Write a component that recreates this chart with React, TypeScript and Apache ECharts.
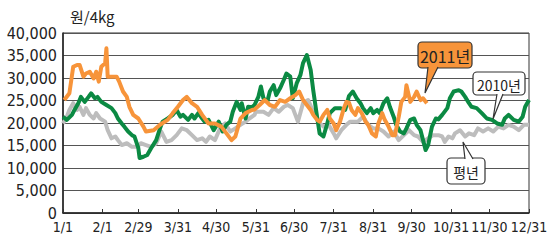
import React, { useEffect, useRef } from "react";
import * as echarts from "echarts";

// x = day of year (0 = 1/1), y = 원/4kg
const tickDays = [0, 31, 59, 90, 120, 151, 181, 212, 243, 273, 304, 334, 365];
const tickLabels = ["1/1", "2/1", "2/29", "3/31", "4/30", "5/31", "6/30", "7/31", "8/31", "9/30", "10/31", "11/30", "12/31"];
const yTicks = [0, 5000, 10000, 15000, 20000, 25000, 30000, 35000, 40000];

const y2011: [number, number][] = [
  [1, 25100], [5, 26600], [8, 32500], [11, 32900], [13, 32900], [16, 30300], [18, 31000], [21, 31400],
  [24, 29900], [26, 31400], [28, 29200], [30, 32500], [33, 33300], [34, 36600], [35, 30300], [38, 30300],
  [42, 30300], [44, 29200], [47, 27000], [50, 25800], [52, 23600], [55, 21800], [59, 21000], [63, 19200],
  [65, 18100], [71, 18400], [76, 19600], [82, 20700], [86, 22200], [90, 23600], [94, 25100], [97, 25800],
  [101, 24400], [105, 23600], [109, 21800], [114, 19900], [119, 19900], [124, 19200], [128, 17700],
  [132, 16200], [135, 17000], [139, 21000], [143, 22200], [148, 22900], [150, 23000], [154, 24000],
  [158, 25100], [162, 24000], [166, 23600], [170, 25100], [174, 24700], [178, 25500], [182, 26200],
  [185, 27000], [188, 25100], [191, 24000], [194, 22900], [196, 21800], [199, 20700], [201, 20300],
  [204, 21800], [207, 22900], [209, 21000], [212, 19900], [214, 18400], [217, 20300], [220, 23300],
  [222, 24700], [224, 24500], [226, 22900], [229, 21800], [231, 23300], [234, 22200], [237, 20300],
  [239, 19600], [242, 17700], [245, 17000], [247, 19900], [250, 22200], [252, 20700], [255, 19200],
  [258, 17300], [260, 17300], [263, 21400], [265, 24700], [268, 25800], [269, 28400], [272, 24700],
  [275, 25800], [277, 27000], [280, 25100], [282, 25500], [285, 24400],
];

const y2010: [number, number][] = [
  [0, 21400], [3, 20700], [7, 21800], [9, 22900], [12, 24400], [14, 25800], [17, 24700], [20, 25800],
  [22, 26600], [25, 25500], [27, 25800], [30, 24700], [34, 24000], [38, 23300], [41, 22200], [43, 21000],
  [46, 19900], [48, 19200], [51, 18100], [54, 17300], [56, 17000], [59, 14400], [60, 12200], [63, 12500],
  [66, 12900], [69, 14400], [73, 16200], [76, 18800], [78, 20300], [82, 21000], [86, 21800], [89, 22900],
  [92, 21400], [94, 21800], [98, 20700], [101, 21800], [103, 21000], [106, 22200], [109, 21000],
  [111, 20300], [114, 20700], [118, 18400], [122, 20300], [125, 18100], [128, 19600], [131, 20300],
  [133, 22500], [136, 24700], [139, 22900], [140, 24400], [143, 21000], [145, 23600], [148, 23500],
  [150, 24000], [153, 25800], [155, 28100], [157, 25500], [160, 24700], [162, 27000], [165, 28400],
  [167, 26200], [170, 27700], [173, 29600], [175, 31000], [178, 30300], [180, 25500], [183, 28800],
  [186, 30700], [188, 33300], [191, 35100], [194, 31800], [196, 27300], [199, 21400], [201, 17700],
  [204, 17000], [207, 19900], [209, 22200], [213, 23300], [217, 23300], [221, 22900], [224, 26000],
  [227, 27000], [230, 25500], [233, 24400], [235, 23300], [238, 22200], [241, 23300], [243, 22200],
  [246, 22900], [248, 22200], [251, 24400], [254, 25500], [256, 23600], [259, 21400], [261, 19600],
  [264, 18100], [267, 17700], [269, 18800], [272, 20700], [275, 21000], [277, 19600], [280, 18400],
  [282, 16200], [284, 14000], [286, 15100], [289, 19200], [292, 21000], [294, 20800], [297, 21800],
  [301, 23300], [303, 25500], [306, 27000], [310, 27300], [312, 27000], [315, 25800], [318, 24400],
  [320, 23600], [324, 23300], [328, 22200], [332, 21000], [336, 20700], [340, 19900], [344, 19600],
  [346, 21000], [349, 21800], [353, 20700], [357, 20300], [360, 21400], [362, 23600], [365, 25100],
];

const yAvg: [number, number][] = [
  [0, 19900], [3, 21400], [5, 22900], [8, 24400], [11, 22900], [13, 23600], [16, 21800], [18, 23300],
  [21, 21800], [24, 21000], [26, 22200], [29, 21000], [33, 20300], [35, 18400], [38, 16600], [41, 17000],
  [43, 16200], [46, 15100], [50, 15500], [54, 14700], [58, 14700], [61, 15500], [65, 15100], [69, 14700],
  [73, 15500], [77, 18100], [81, 15800], [85, 16200], [89, 17300], [93, 18800], [97, 18400], [101, 17300],
  [105, 16200], [109, 16600], [112, 15800], [115, 17000], [119, 16200], [123, 18800], [127, 19900],
  [131, 18100], [135, 18800], [139, 19600], [143, 20300], [146, 21000], [150, 21800], [151, 22500],
  [157, 22500], [161, 21800], [165, 23300], [169, 22500], [173, 23600], [176, 24000], [180, 23300],
  [184, 20300], [188, 24400], [192, 25100], [196, 22500], [200, 20300], [204, 19200], [208, 19600],
  [212, 17700], [214, 16600], [218, 18400], [222, 19600], [225, 20300], [231, 20300], [235, 21400],
  [239, 19600], [243, 18800], [247, 18800], [251, 18100], [255, 17000], [259, 18100], [263, 16200],
  [267, 17300], [271, 18400], [275, 17300], [278, 17000], [282, 15800], [286, 16600], [290, 17300],
  [294, 17300], [297, 17000], [299, 15800], [302, 17000], [305, 16600], [307, 17700], [311, 18400],
  [315, 17000], [318, 17700], [322, 17300], [325, 18800], [329, 18100], [333, 18800], [337, 18100],
  [341, 19200], [345, 18800], [349, 19600], [353, 19200], [357, 18400], [361, 19600], [365, 19600],
];

const FONT = "'Liberation Sans Narrow', 'DejaVu Sans Condensed', 'Noto Sans CJK KR', sans-serif";
const KFONT = "'Liberation Sans Narrow', 'Noto Sans CJK KR', sans-serif";

function callout(
  box: [number, number, number, number],
  tail: [number, number][],
  fill: string,
  text: string,
  fontSize: number
): any[] {
  const [x, y, w, h] = box;
  return [
    { type: "rect", shape: { x, y, width: w, height: h, r: 4 }, style: { fill, stroke: "#333", lineWidth: 1.2 }, z: 100 },
    { type: "polygon", shape: { points: tail }, style: { fill, stroke: null }, z: 101 },
    { type: "polyline", shape: { points: [tail[0], tail[1], tail[2]] }, style: { fill: null, stroke: "#333", lineWidth: 1.2 }, z: 102 },
    {
      type: "text", x: x + w / 2, y: y + h / 2 + 1,
      style: { text, fill: "#222", font: `${fontSize}px ${KFONT}`, align: "center", verticalAlign: "middle" },
      z: 103,
    },
  ];
}

export default function App() {
  const ref = useRef<HTMLDivElement>(null);
  useEffect(() => {
    if (!ref.current) return;
    const chart = echarts.init(ref.current, null, { renderer: "svg" });
    const lineCommon = { type: "line", showSymbol: false, smooth: false, silent: true };
    chart.setOption({
      animation: false,
      grid: {
        left: 63, right: 27, top: 33, bottom: 28,
        containLabel: false, outerBoundsMode: "none",
        show: true, borderColor: "#333", borderWidth: 1,
      },
      xAxis: {
        type: "value",
        min: 0,
        max: 365,
        splitLine: { show: false },
        axisLine: { lineStyle: { color: "#222", width: 1.5 } },
        axisTick: { customValues: tickDays, inside: true, length: 4, lineStyle: { color: "#333" } },
        axisLabel: {
          customValues: tickDays,
          formatter: (v: number) => tickLabels[tickDays.indexOf(v)] ?? "",
          color: "#222",
          fontSize: 14,
          fontFamily: FONT,
          margin: 7,
          hideOverlap: false,
        },
      },
      yAxis: {
        type: "value",
        min: 0,
        max: 40000,
        interval: 5000,
        axisLine: { show: true, lineStyle: { color: "#222", width: 1.5 } },
        axisTick: { show: false },
        splitLine: { lineStyle: { color: "#555", width: 1 } },
        axisLabel: {
          formatter: (v: number) => (yTicks.includes(v) ? v.toLocaleString("en-US") : ""),
          color: "#222",
          fontSize: 16,
          fontFamily: FONT,
          margin: 6,
        },
      },
      series: [
        { ...lineCommon, name: "평년", data: yAvg, lineStyle: { color: "#BDBDBD", width: 4, join: "round" }, z: 2 },
        { ...lineCommon, name: "2010년", data: y2010, lineStyle: { color: "#0B8A43", width: 4, join: "round" }, z: 3 },
        { ...lineCommon, name: "2011년", data: y2011, lineStyle: { color: "#F7943A", width: 4, join: "round" }, z: 4 },
      ],
      graphic: [
        {
          type: "text", x: 70, y: 9,
          style: { text: "원/4kg", fill: "#222", font: `15px ${KFONT}` },
        },
        ...callout([418, 42, 54, 26], [[428, 67], [425, 93], [438, 67]], "#F7943A", "2011년", 16),
        ...callout([473, 72, 52, 23], [[497, 94], [493, 119], [503, 94]], "#ffffff", "2010년", 14),
        ...callout([447, 158, 38, 26], [[465, 159], [463, 142], [473, 159]], "#ffffff", "평년", 14),
      ],
    });
    return () => chart.dispose();
  }, []);
  return (
    <div
      ref={ref}
      style={{ position: "absolute", left: 0, top: 0, width: 556, height: 241 }}
    />
  );
}
